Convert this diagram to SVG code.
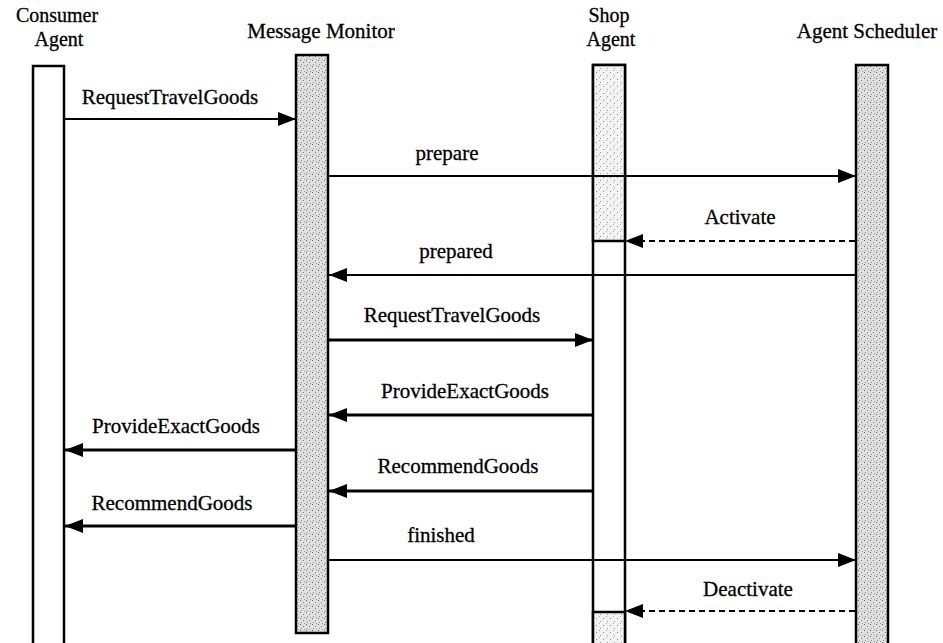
<svg xmlns="http://www.w3.org/2000/svg" width="943" height="643" viewBox="0 0 943 643">
<defs>
<pattern id="stipLight" width="7" height="7" patternUnits="userSpaceOnUse">
<rect width="7" height="7" fill="#f2f2f2"/>
<rect x="1" y="2" width="1" height="1" fill="#888"/>
<rect x="5" y="5" width="1" height="1" fill="#999"/>
<rect x="4" y="0" width="1" height="1" fill="#aaa"/>
</pattern>
<pattern id="stipMed" width="6" height="6" patternUnits="userSpaceOnUse">
<rect width="6" height="6" fill="#e0e0e0"/>
<rect x="0" y="0" width="1" height="1" fill="#666"/>
<rect x="3" y="2" width="1" height="1" fill="#777"/>
<rect x="1" y="4" width="1" height="1" fill="#888"/>
<rect x="4" y="5" width="1" height="1" fill="#999"/>
</pattern>
<marker id="ah" markerUnits="userSpaceOnUse" markerWidth="20" markerHeight="14" refX="18" refY="7" orient="auto">
<path d="M0,0 L18,7 L0,14 z" fill="#000"/>
</marker>
</defs>
<style>
text{font-family:"Liberation Serif","Times New Roman",serif;font-size:21px;fill:#000;text-anchor:middle;stroke:#000;stroke-width:0.3}
.hd{font-size:20px}
.life{stroke:#000;stroke-width:2.5}
.msg{stroke:#000;stroke-width:2.2;fill:none;marker-end:url(#ah)}
.thick{stroke-width:3}
.dash{stroke-dasharray:6 4}
</style>
<rect width="943" height="643" fill="#fff"/>

<g id="consumer-agent">
<text class="hd" x="57" y="22">Consumer</text>
<text class="hd" x="59" y="46">Agent</text>
<rect class="life" x="33" y="66" width="31" height="590" fill="#fff"/>
</g>

<g id="message-monitor">
<text x="321" y="38">Message Monitor</text>
<rect class="life" x="296" y="55" width="32" height="578" fill="url(#stipMed)"/>
</g>

<g id="shop-agent">
<text class="hd" x="609" y="22">Shop</text>
<text class="hd" x="611" y="46">Agent</text>
<rect class="life" x="593" y="65" width="32" height="590" fill="#fff"/>
<rect class="life" x="593" y="65" width="32" height="176" fill="url(#stipLight)"/>
<rect class="life" x="593" y="612" width="32" height="45" fill="url(#stipLight)"/>
</g>

<g id="agent-scheduler">
<text x="867" y="38">Agent Scheduler</text>
<rect class="life" x="856" y="65" width="32" height="590" fill="url(#stipMed)"/>
</g>

<g id="connectors">
<line class="msg" x1="65" y1="119" x2="296" y2="119"/>
<text x="170" y="104">RequestTravelGoods</text>

<line class="msg" x1="329" y1="176" x2="856" y2="176"/>
<text x="447" y="160">prepare</text>

<line class="msg dash" x1="855" y1="241" x2="625" y2="241"/>
<text x="740" y="224">Activate</text>

<line class="msg" x1="856" y1="275" x2="329" y2="275"/>
<text x="456" y="258">prepared</text>

<line class="msg thick" x1="329" y1="340" x2="593" y2="340"/>
<text x="452" y="322">RequestTravelGoods</text>

<line class="msg thick" x1="593" y1="415" x2="329" y2="415"/>
<text x="465" y="398">ProvideExactGoods</text>

<line class="msg thick" x1="296" y1="450" x2="65" y2="450"/>
<text x="176" y="433">ProvideExactGoods</text>

<line class="msg thick" x1="593" y1="491" x2="329" y2="491"/>
<text x="458" y="473">RecommendGoods</text>

<line class="msg thick" x1="296" y1="526" x2="65" y2="526"/>
<text x="172" y="510">RecommendGoods</text>

<line class="msg" x1="329" y1="560" x2="856" y2="560"/>
<text x="441" y="542">finished</text>

<line class="msg dash" x1="855" y1="611" x2="625" y2="611"/>
<text x="748" y="596">Deactivate</text>
</g>
</svg>
